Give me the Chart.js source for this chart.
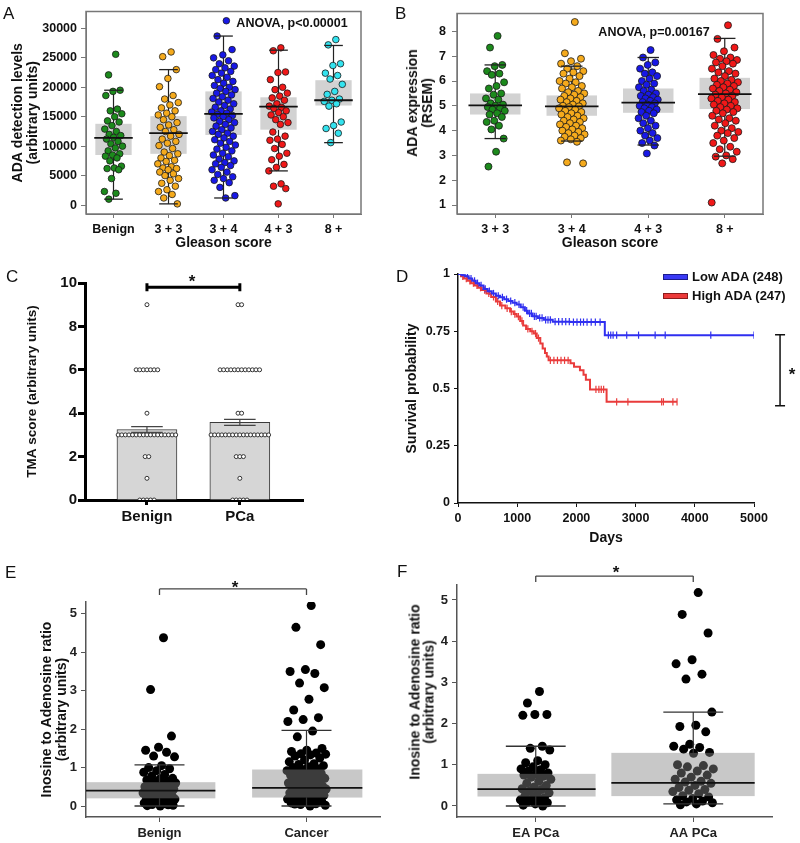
<!DOCTYPE html>
<html>
<head>
<meta charset="utf-8">
<script src="https://cdn.jsdelivr.net/npm/chart.js@4.4.1/dist/chart.umd.min.js"></script>
<style>
  body { margin: 0; width: 800px; height: 843px; position: relative; background: #fff; overflow: hidden;
         font-family: 'Liberation Sans', Arial, sans-serif; }
  canvas { position: absolute; }
  .tx { position: absolute; white-space: nowrap; line-height: 1; transform: translate(-50%, -50%); font-weight: bold; color: #111; }
  .rot { position: absolute; white-space: nowrap; text-align: center; transform: translate(-50%, -50%) rotate(-90deg);
         font-weight: bold; font-size: 14px; color: #111; }
  .letter { position: absolute; font-size: 17px; line-height: 1; color: #111; }
  .leg { position: absolute; font-size: 13px; font-weight: bold; line-height: 1; color: #111; transform: translateY(-50%); white-space: nowrap; }
  .sw { position: absolute; width: 23px; height: 4px; }
</style>
</head>
<body>
<canvas id="pa"></canvas>
<canvas id="pb"></canvas>
<canvas id="pc"></canvas>
<canvas id="pd"></canvas>
<canvas id="pe"></canvas>
<canvas id="pf"></canvas>

<div class="letter" style="left:3px;top:5px">A</div>
<div class="letter" style="left:395px;top:5px">B</div>
<div class="letter" style="left:6px;top:268px">C</div>
<div class="letter" style="left:396px;top:268px">D</div>
<div class="letter" style="left:5px;top:564px">E</div>
<div class="letter" style="left:397px;top:563px">F</div>

<div class="rot" style="left:419.5px;top:103px;line-height:15px">ADA expression<br>(RSEM)</div>
<div class="rot" style="left:421.5px;top:692px;line-height:13.5px">Inosine to Adenosine ratio<br>(arbitrary units)</div>

<div class="tx" style="left:292px;top:23px;font-size:12.5px">ANOVA, p&lt;0.00001</div>
<div class="tx" style="left:654px;top:32px;font-size:12.5px">ANOVA, p=0.00167</div>
<div class="tx" style="left:192px;top:281px;font-size:17px">*</div>
<div class="tx" style="left:792px;top:374px;font-size:17px">*</div>
<div class="tx" style="left:235px;top:587px;font-size:17px">*</div>
<div class="tx" style="left:616px;top:572px;font-size:17px">*</div>

<div class="sw" style="left:663px;top:274px;background:#3a3af5;border:1px solid #1c1c8c"></div>
<div class="leg" style="left:692px;top:276px">Low ADA (248)</div>
<div class="sw" style="left:663px;top:293px;background:#ec3a3a;border:1px solid #8c1c1c"></div>
<div class="leg" style="left:692px;top:295px">High ADA (247)</div>

<script>
// ── ADA figure: A/B jittered box plots, C TMA bars, D Kaplan-Meier, E/F ratio box plots ──

// A — ADA detection levels by Gleason score
const aCats = ['Benign', '3 + 3', '3 + 4', '4 + 3', '8 +'];
const aBenign = [25600, 22100, 19500, 19300, 18600, 16300, 16000, 15500, 15000, 14300, 14100, 13500, 12900, 12500, 12000, 11800, 11500, 11200, 10800, 10400, 10000, 9700, 9200, 8700, 8500, 8300, 8000, 7500, 6600, 6300, 6200, 6000, 4500, 2300, 2000, 1000];
const aG33 = [26000, 25200, 23000, 21500, 20100, 18600, 18000, 17400, 17000, 16500, 16000, 15600, 15300, 15000, 14500, 14000, 13600, 13200, 12800, 12500, 12000, 11700, 11200, 10800, 10500, 10100, 9600, 9000, 8700, 8400, 8000, 7600, 7400, 7000, 6500, 6300, 6200, 6000, 5600, 5300, 5000, 4500, 4200, 3700, 3200, 2600, 2300, 1800, 1200, 200];
const aG34 = [31300, 28700, 26400, 25500, 25000, 24500, 24000, 23600, 23300, 23000, 22700, 22400, 22000, 21700, 21300, 21000, 20700, 20300, 20000, 19800, 19600, 19300, 19000, 18700, 18400, 18100, 17800, 17500, 17200, 16900, 16600, 16300, 16000, 15800, 15600, 15400, 15200, 15000, 14800, 14500, 14200, 14000, 13700, 13400, 13100, 12800, 12500, 12200, 12000, 11700, 11400, 11100, 10800, 10500, 10200, 9800, 9500, 9200, 8800, 8500, 8200, 7800, 7500, 7200, 7000, 6700, 6400, 6000, 5600, 5200, 4800, 4500, 4200, 3800, 3000, 1600, 1200];
const aG43 = [26700, 26200, 22600, 22500, 21300, 20000, 19600, 19000, 18500, 18200, 17800, 17200, 16800, 16600, 16400, 16000, 15700, 15300, 15000, 14500, 14000, 13700, 12400, 11700, 11200, 11000, 10300, 9600, 8800, 8300, 7700, 6900, 6400, 5800, 3600, 3200, 2800, 200];
const aG8 = [28100, 27200, 24000, 23700, 22400, 22000, 21400, 20500, 19300, 18800, 18000, 17800, 17600, 17200, 16800, 14100, 13500, 13000, 12200, 10600];
const aLow = [1000, 200, 1200, 5800, 10600];
const aQ1 = [8500, 8700, 11900, 12800, 16900];
const aMed = [11400, 12200, 15500, 16700, 17800];
const aQ3 = [13800, 15100, 19300, 18300, 21200];
const aHigh = [19500, 23000, 28700, 26300, 27100];
const aTicks = [0, 5000, 10000, 15000, 20000, 25000, 30000];

// B — ADA expression (RSEM) by Gleason score
const bCats = ['3 + 3', '3 + 4', '4 + 3', '8 +'];
const bG33 = [7.82, 7.35, 6.65, 6.6, 6.4, 6.3, 6.25, 5.95, 5.8, 5.7, 5.5, 5.45, 5.3, 5.25, 5.1, 5.05, 5.0, 4.95, 4.9, 4.85, 4.8, 4.7, 4.65, 4.55, 4.4, 4.35, 4.2, 4.05, 3.68, 3.15, 2.55];
const bG34 = [8.38, 7.12, 6.9, 6.8, 6.7, 6.6, 6.5, 6.4, 6.35, 6.3, 6.2, 6.1, 6.0, 5.95, 5.9, 5.8, 5.75, 5.7, 5.6, 5.55, 5.5, 5.45, 5.4, 5.35, 5.3, 5.25, 5.2, 5.15, 5.1, 5.05, 5.0, 4.98, 4.95, 4.9, 4.85, 4.8, 4.75, 4.7, 4.65, 4.6, 4.55, 4.5, 4.45, 4.4, 4.35, 4.3, 4.25, 4.2, 4.15, 4.1, 4.05, 4.0, 3.95, 3.9, 3.85, 3.8, 3.75, 3.7, 3.65, 3.6, 3.55, 2.72, 2.68];
const bG43 = [7.25, 6.95, 6.75, 6.65, 6.5, 6.35, 6.3, 6.2, 6.1, 6.0, 5.9, 5.85, 5.75, 5.65, 5.6, 5.5, 5.45, 5.4, 5.35, 5.3, 5.25, 5.2, 5.15, 5.1, 5.05, 5.0, 4.95, 4.9, 4.85, 4.8, 4.75, 4.7, 4.6, 4.5, 4.4, 4.3, 4.2, 4.1, 4.0, 3.9, 3.8, 3.7, 3.6, 3.5, 3.4, 3.08];
const bG8 = [8.25, 7.7, 7.35, 7.2, 7.05, 6.95, 6.9, 6.85, 6.8, 6.75, 6.7, 6.6, 6.5, 6.4, 6.35, 6.3, 6.2, 6.1, 6.05, 6.0, 5.95, 5.9, 5.85, 5.8, 5.75, 5.7, 5.65, 5.6, 5.55, 5.5, 5.45, 5.4, 5.35, 5.3, 5.25, 5.2, 5.15, 5.1, 5.05, 5.0, 4.95, 4.9, 4.85, 4.8, 4.75, 4.7, 4.6, 4.5, 4.45, 4.4, 4.3, 4.2, 4.1, 4.0, 3.95, 3.9, 3.8, 3.7, 3.6, 3.5, 3.35, 3.25, 3.15, 3.0, 2.95, 2.85, 2.68, 1.1];
const bLow = [3.68, 3.58, 3.42, 2.97];
const bQ1 = [4.65, 4.6, 4.72, 4.87];
const bMed = [5.02, 4.98, 5.13, 5.47];
const bQ3 = [5.5, 5.42, 5.7, 6.13];
const bHigh = [6.65, 6.6, 6.95, 7.72];
const bTicks = [1, 2, 3, 4, 5, 6, 7, 8];

// C — TMA score, bar = mean ± SEM, dots = number of cores per score
const cCats = ['Benign', 'PCa'];
const cMean = [3.25, 3.58];
const cSem = [0.13, 0.14];
const cScores = [0, 1, 2, 3, 4, 6, 9];
const cBenignN = [5, 1, 2, 17, 1, 7, 1];
const cPcaN = [5, 1, 3, 17, 2, 12, 2];
const cTicks = [0, 2, 4, 6, 8, 10];

// D — Kaplan-Meier survival
const lowT = [0, 60, 120, 180, 240, 300, 360, 430, 500, 570, 640, 710, 780, 850, 920, 990, 1060, 1130, 1180, 1260, 1350, 1450, 1600, 1900, 2480, 5000];
const lowS = [1, 0.995, 0.99, 0.98, 0.97, 0.96, 0.95, 0.935, 0.925, 0.915, 0.905, 0.898, 0.89, 0.882, 0.875, 0.867, 0.855, 0.84, 0.828, 0.815, 0.808, 0.8, 0.792, 0.79, 0.733, 0.733];
const lowCens = [100, 160, 220, 280, 330, 390, 460, 530, 600, 680, 750, 820, 890, 960, 1030, 1100, 1160, 1210, 1240, 1290, 1320, 1380, 1420, 1480, 1520, 1560, 1640, 1700, 1760, 1820, 1880, 1950, 2010, 2070, 2120, 2180, 2250, 2320, 2400, 2540, 2580, 2620, 2680, 2850, 3050, 3330, 3500, 4270, 5000];
const highT = [0, 50, 100, 160, 220, 280, 340, 400, 480, 560, 640, 710, 800, 880, 940, 990, 1050, 1100, 1150, 1220, 1280, 1330, 1390, 1430, 1470, 1500, 1530, 1900, 1960, 2060, 2120, 2160, 2230, 2510, 3700];
const highS = [1, 0.99, 0.98, 0.97, 0.96, 0.95, 0.94, 0.93, 0.915, 0.9, 0.88, 0.862, 0.85, 0.836, 0.825, 0.814, 0.795, 0.775, 0.76, 0.75, 0.74, 0.72, 0.697, 0.675, 0.655, 0.64, 0.623, 0.61, 0.595, 0.58, 0.56, 0.538, 0.496, 0.442, 0.442];
const highCens = [80, 140, 200, 260, 320, 380, 450, 520, 600, 670, 740, 830, 900, 960, 1020, 1080, 1180, 1250, 1310, 1360, 1560, 1620, 1680, 1740, 1800, 1860, 2330, 2380, 2420, 2460, 2680, 2870, 3440, 3470, 3630, 3700];
const dXTicks = [0, 1000, 2000, 3000, 4000, 5000];
const dYTicks = [0, 0.25, 0.5, 0.75, 1];

// E — inosine/adenosine ratio, benign vs cancer
const eCats = ['Benign', 'Cancer'];
const eBenign = [4.38, 3.03, 1.82, 1.53, 1.45, 1.4, 1.3, 1.28, 1.05, 1.0, 0.97, 0.92, 0.88, 0.82, 0.78, 0.72, 0.7, 0.68, 0.65, 0.63, 0.6, 0.58, 0.57, 0.55, 0.52, 0.5, 0.48, 0.46, 0.44, 0.42, 0.4, 0.38, 0.36, 0.34, 0.32, 0.3, 0.28, 0.26, 0.24, 0.22, 0.2, 0.18, 0.16, 0.14, 0.12, 0.1, 0.08, 0.06, 0.04, 0.02, 0.0, 0.01, 0.03];
const eCancer = [5.22, 4.65, 4.2, 3.55, 3.5, 3.45, 3.2, 3.08, 2.78, 2.5, 2.3, 2.25, 2.2, 1.95, 1.8, 1.5, 1.45, 1.42, 1.38, 1.36, 1.35, 1.33, 1.3, 1.25, 1.2, 1.15, 1.1, 1.08, 1.05, 1.02, 1.0, 0.97, 0.95, 0.92, 0.9, 0.88, 0.85, 0.82, 0.8, 0.78, 0.75, 0.72, 0.7, 0.68, 0.65, 0.62, 0.6, 0.58, 0.55, 0.52, 0.5, 0.49, 0.48, 0.46, 0.44, 0.42, 0.4, 0.38, 0.36, 0.34, 0.32, 0.3, 0.28, 0.26, 0.24, 0.22, 0.2, 0.18, 0.16, 0.14, 0.12, 0.1, 0.08, 0.06, 0.04, 0.02, 0.0, 0.05, 0.15, 0.25];
const eLow = [0, 0];
const eQ1 = [0.2, 0.22];
const eMed = [0.4, 0.47];
const eQ3 = [0.62, 0.95];
const eHigh = [1.07, 1.97];

// F — inosine/adenosine ratio, EA vs AA PCa
const fCats = ['EA PCa', 'AA PCa'];
const fEA = [2.78, 2.5, 2.22, 2.22, 2.2, 1.45, 1.4, 1.36, 1.1, 1.05, 1.0, 0.95, 0.9, 0.88, 0.85, 0.8, 0.78, 0.75, 0.72, 0.7, 0.65, 0.6, 0.55, 0.5, 0.46, 0.42, 0.4, 0.36, 0.32, 0.28, 0.25, 0.2, 0.18, 0.15, 0.12, 0.1, 0.08, 0.05, 0.02, 0.0];
const fAA = [5.18, 4.65, 4.2, 3.55, 3.45, 3.2, 3.08, 2.28, 1.96, 1.93, 1.8, 1.5, 1.45, 1.42, 1.38, 1.3, 1.28, 1.0, 0.98, 0.95, 0.9, 0.85, 0.8, 0.75, 0.7, 0.65, 0.6, 0.58, 0.55, 0.5, 0.45, 0.4, 0.38, 0.35, 0.3, 0.25, 0.22, 0.18, 0.15, 0.12, 0.1, 0.08, 0.05, 0.03];
const fLow = [0, 0.05];
const fQ1 = [0.23, 0.24];
const fMed = [0.41, 0.56];
const fQ3 = [0.78, 1.29];
const fHigh = [1.45, 2.28];
const eTicks = [0, 1, 2, 3, 4, 5];

Chart.defaults.font.family = "'Liberation Sans', Arial, sans-serif";
Chart.defaults.font.weight = 'bold';
Chart.defaults.color = '#111';
Chart.defaults.animation = false;
Chart.defaults.plugins.legend.display = false;
Chart.defaults.plugins.tooltip.enabled = false;

// place a canvas and work out the padding / axis sizes that put the plot area where it is in the figure
function frame(id, box, area) {
  const c = document.getElementById(id);
  c.width = box.w; c.height = box.h;
  c.style.left = box.x + 'px'; c.style.top = box.y + 'px';
  return {
    el: c,
    padding: { left: 0, top: area.top - box.y, right: box.x + box.w - area.right, bottom: 0 },
    yw: area.left - box.x,
    xh: box.y + box.h - area.bottom,
  };
}

function axis(f, side, o) {
  const line = o.line || '#555';
  return {
    type: 'linear', min: o.min, max: o.max, offset: false,
    afterBuildTicks: s => { s.ticks = o.ticks.map(v => ({ value: v })); },
    afterFit: side === 'y' ? s => { s.width = f.yw; } : s => { s.height = f.xh; },
    ticks: { callback: o.label || (v => String(v)), font: { size: o.size || 12.5 }, padding: o.pad ?? 4,
             color: o.color || '#111', autoSkip: false, maxRotation: 0 },
    grid: { display: true, offset: false, drawOnChartArea: false, drawTicks: true, tickLength: o.tick ?? 5,
            tickWidth: o.tickWidth || 1, color: line, tickColor: line },
    border: { display: true, color: line, width: o.lineWidth || 1 },
    title: o.title
      ? { display: true, text: o.title, color: '#111',
          font: { size: o.titleSize || 14, lineHeight: o.titleLH || 1.1 },
          padding: { top: o.titleTop || 0, bottom: o.titleBottom || 0 } }
      : { display: false },
  };
}

// deterministic spread of points around a category centre
function swarm(vals, idx, spread) {
  return vals.map((v, i) => ({ x: idx + spread * ((((i + 1) * 0.618034) % 1) * 2 - 1), y: v }));
}

function boxPlugin(cfg) {
  const line = (ctx, x1, y1, x2, y2) => { ctx.beginPath(); ctx.moveTo(x1, y1); ctx.lineTo(x2, y2); ctx.stroke(); };
  function boxes(chart) {
    const { ctx, scales: { x, y } } = chart;
    ctx.save();
    cfg.med.forEach((_, i) => {
      const xl = x.getPixelForValue(i + cfg.boxL[i]), xr = x.getPixelForValue(i + cfg.boxR[i]);
      const yt = y.getPixelForValue(cfg.q3[i]), yb = y.getPixelForValue(cfg.q1[i]);
      const xc = x.getPixelForValue(i);
      ctx.strokeStyle = cfg.whisker; ctx.lineWidth = 1.2;
      line(ctx, xc, yt, xc, y.getPixelForValue(cfg.hi[i]));
      line(ctx, xc, yb, xc, y.getPixelForValue(cfg.lo[i]));
      ctx.fillStyle = cfg.fill;
      ctx.fillRect(xl, yt, xr - xl, yb - yt);
    });
    ctx.restore();
  }
  function marks(chart) {
    const { ctx, scales: { x, y } } = chart;
    ctx.save();
    cfg.med.forEach((m, i) => {
      const cl = x.getPixelForValue(i - cfg.cap), cr = x.getPixelForValue(i + cfg.cap);
      ctx.strokeStyle = cfg.whisker; ctx.lineWidth = 1.3;
      [cfg.lo[i], cfg.hi[i]].forEach(v => { const py = y.getPixelForValue(v); line(ctx, cl, py, cr, py); });
      ctx.strokeStyle = '#111'; ctx.lineWidth = 1.8;
      const py = y.getPixelForValue(m);
      line(ctx, x.getPixelForValue(i + cfg.medL[i]), py, x.getPixelForValue(i + cfg.medR[i]), py);
    });
    ctx.restore();
  }
  return {
    id: 'boxes',
    beforeDatasetsDraw(chart) { if (!cfg.over) boxes(chart); },
    afterDatasetsDraw(chart) { if (cfg.over) boxes(chart); marks(chart); },
  };
}

function outlinePlugin(color) {
  return {
    id: 'outline',
    afterDraw(chart) {
      const { ctx, chartArea: a } = chart;
      ctx.save(); ctx.strokeStyle = color; ctx.lineWidth = 1.5;
      ctx.strokeRect(a.left, a.top, a.right - a.left, a.bottom - a.top);
      ctx.restore();
    },
  };
}

// significance brackets in data units; tick sizes in px
function bracketPlugin(list) {
  return {
    id: 'brackets',
    afterDraw(chart) {
      const { ctx, scales: { x, y } } = chart;
      ctx.save();
      list.forEach(b => {
        ctx.strokeStyle = b.color; ctx.lineWidth = b.w;
        ctx.beginPath();
        if (b.dir === 'h') {
          const x1 = x.getPixelForValue(b.x1), x2 = x.getPixelForValue(b.x2), py = y.getPixelForValue(b.y);
          ctx.moveTo(x1, py); ctx.lineTo(x2, py);
          [x1, x2].forEach(px => { ctx.moveTo(px, py - b.up); ctx.lineTo(px, py + b.down); });
        } else {
          const px = x.getPixelForValue(b.x), y1 = y.getPixelForValue(b.y1), y2 = y.getPixelForValue(b.y2);
          ctx.moveTo(px, y1); ctx.lineTo(px, y2);
          [y1, y2].forEach(py => { ctx.moveTo(px - b.cap, py); ctx.lineTo(px + b.cap, py); });
        }
        ctx.stroke();
      });
      ctx.restore();
    },
  };
}

function pointSet(data, color, r, border) {
  return { data, backgroundColor: color, borderColor: border || '#1a1a1a', borderWidth: border === null ? 0 : 0.8,
           pointRadius: r, pointHoverRadius: r, showLine: false };
}

// ---------- A ----------
{
  const f = frame('pa', { x: 0, y: 0, w: 372, h: 255 }, { left: 86, top: 10, right: 361, bottom: 214 });
  const groups = [aBenign, aG33, aG34, aG43, aG8];
  const colors = ['#1c8a1c', '#f5aa1c', '#1818e6', '#f01818', '#33e3ef'];
  const spreads = [0.17, 0.2, 0.22, 0.18, 0.18];
  new Chart(f.el, {
    type: 'scatter',
    data: { datasets: groups.map((g, i) => pointSet(swarm(g, i, spreads[i]), colors[i], 3.3)) },
    options: {
      responsive: false, layout: { padding: f.padding },
      scales: {
        x: axis(f, 'x', { min: -0.5, max: 4.5, ticks: [0, 1, 2, 3, 4], label: v => aCats[v], tick: 4, pad: 4,
                          title: 'Gleason score', titleBottom: 4, line: '#777' }),
        y: axis(f, 'y', { min: -1520, max: 32870, ticks: aTicks, tick: 5, pad: 4, line: '#777',
                          title: ['ADA detection levels', '(arbitrary units)'], titleTop: 10 }),
      },
    },
    plugins: [
      boxPlugin({ lo: aLow, q1: aQ1, med: aMed, q3: aQ3, hi: aHigh, boxL: [-0.33, -0.33, -0.33, -0.33, -0.33],
                  boxR: [0.33, 0.33, 0.33, 0.33, 0.33], medL: [-0.35, -0.35, -0.35, -0.35, -0.35],
                  medR: [0.35, 0.35, 0.35, 0.35, 0.35], cap: 0.17, fill: '#d2d2d2', whisker: '#222', over: false }),
      outlinePlugin('#777'),
    ],
  });
}

// ---------- B ----------
{
  const f = frame('pb', { x: 400, y: 0, w: 400, h: 255 }, { left: 457, top: 13, right: 763, bottom: 214 });
  const groups = [bG33, bG34, bG43, bG8];
  const colors = ['#1c8a1c', '#f5aa1c', '#1818e6', '#f01818'];
  const spreads = [0.13, 0.17, 0.13, 0.18];
  new Chart(f.el, {
    type: 'scatter',
    data: { datasets: groups.map((g, i) => pointSet(swarm(g, i, spreads[i]), colors[i], 3.5)) },
    options: {
      responsive: false, layout: { padding: f.padding },
      scales: {
        x: axis(f, 'x', { min: -0.5, max: 3.5, ticks: [0, 1, 2, 3], label: v => bCats[v], tick: 4, pad: 4,
                          title: 'Gleason score', titleBottom: 4, line: '#777' }),
        y: axis(f, 'y', { min: 0.638, max: 8.724, ticks: bTicks, tick: 5, pad: 6, line: '#777' }),
      },
    },
    plugins: [
      boxPlugin({ lo: bLow, q1: bQ1, med: bMed, q3: bQ3, hi: bHigh, boxL: [-0.33, -0.33, -0.33, -0.33],
                  boxR: [0.33, 0.33, 0.33, 0.33], medL: [-0.35, -0.35, -0.35, -0.35], medR: [0.35, 0.35, 0.35, 0.35],
                  cap: 0.14, fill: '#d2d2d2', whisker: '#222', over: false }),
      outlinePlugin('#777'),
    ],
  });
}

// ---------- C ----------
{
  const f = frame('pc', { x: 0, y: 265, w: 330, h: 270 }, { left: 85, top: 283, right: 303, bottom: 500 });
  const step = 0.0387;
  const dots = (counts, pos) => cScores.flatMap((s, k) =>
    Array.from({ length: counts[k] }, (_, j) => ({ x: pos + (j - (counts[k] - 1) / 2) * step, y: s })));
  const errPlugin = {
    id: 'sem',
    afterDatasetsDraw(chart) {
      const { ctx, scales: { x, y } } = chart;
      ctx.save(); ctx.strokeStyle = '#444'; ctx.lineWidth = 1.2;
      cMean.forEach((m, i) => {
        const xc = x.getPixelForValue(i + 1), xl = x.getPixelForValue(i + 1 - 0.17), xr = x.getPixelForValue(i + 1 + 0.17);
        const yt = y.getPixelForValue(m + cSem[i]), yb = y.getPixelForValue(m - cSem[i]);
        ctx.beginPath();
        ctx.moveTo(xc, yt); ctx.lineTo(xc, yb);
        ctx.moveTo(xl, yt); ctx.lineTo(xr, yt);
        ctx.moveTo(xl, yb); ctx.lineTo(xr, yb);
        ctx.stroke();
      });
      ctx.restore();
    },
  };
  new Chart(f.el, {
    type: 'bar',
    data: {
      datasets: [
        { type: 'bar', data: cMean.map((m, i) => ({ x: i + 1, y: m })), barThickness: 60,
          backgroundColor: '#d6d6d6', borderColor: '#3a3a3a', borderWidth: 1, order: 3 },
        { type: 'scatter', data: dots(cBenignN, 1).concat(dots(cPcaN, 2)), backgroundColor: '#fff',
          borderColor: '#333', borderWidth: 1, pointRadius: 2, showLine: false, order: 1 },
      ],
    },
    options: {
      responsive: false, layout: { padding: f.padding },
      scales: {
        x: axis(f, 'x', { min: 0.333, max: 2.68, ticks: [1, 2], label: v => cCats[v - 1], size: 15, tick: 5, pad: 3,
                          tickWidth: 3, lineWidth: 3, line: '#000' }),
        y: axis(f, 'y', { min: 0, max: 10, ticks: cTicks, size: 15, tick: 7, pad: 1, tickWidth: 3, lineWidth: 3,
                          line: '#000', title: 'TMA score (arbitrary units)', titleSize: 13.5, titleTop: 25 }),
      },
    },
    plugins: [errPlugin, bracketPlugin([{ dir: 'h', x1: 1, x2: 2, y: 9.8, up: 4, down: 4, w: 3, color: '#000' }])],
  });
}

// ---------- D ----------
{
  const f = frame('pd', { x: 400, y: 262, w: 400, h: 290 }, { left: 458, top: 274, right: 754, bottom: 503 });
  const at = (T, S, t) => { let v = S[0]; T.forEach((tt, i) => { if (tt <= t) v = S[i]; }); return v; };
  const curve = (T, S) => T.map((t, i) => ({ x: t, y: S[i] }));
  const cens = (C, T, S) => C.map(t => ({ x: t, y: at(T, S, t) }));
  const blue = '#2f2ff0', red = '#e93b3b';
  const tickSet = (data, color) => ({ type: 'scatter', data, pointStyle: 'line', rotation: 90, pointRadius: 3.6,
                                       borderColor: color, borderWidth: 1.2, showLine: false });
  new Chart(f.el, {
    type: 'line',
    data: {
      datasets: [
        { data: curve(lowT, lowS), stepped: true, borderColor: blue, borderWidth: 2, pointRadius: 0, fill: false },
        { data: curve(highT, highS), stepped: true, borderColor: red, borderWidth: 2, pointRadius: 0, fill: false },
        tickSet(cens(lowCens, lowT, lowS), blue),
        tickSet(cens(highCens, highT, highS), red),
      ],
    },
    options: {
      responsive: false, layout: { padding: f.padding },
      scales: {
        x: axis(f, 'x', { min: 0, max: 5000, ticks: dXTicks, tick: 4, pad: 4, line: '#111', lineWidth: 1.5,
                          title: 'Days', titleBottom: 6 }),
        y: axis(f, 'y', { min: 0, max: 1, ticks: dYTicks, tick: 4, pad: 4, line: '#111', lineWidth: 1.5,
                          title: 'Survival probability', titleTop: 4 }),
      },
    },
    plugins: [bracketPlugin([{ dir: 'v', x: 5440, y1: 0.735, y2: 0.425, cap: 5, w: 1.5, color: '#111' }])],
  });
}

// ---------- E / F ----------
function ratioPanel(id, box, area, cats, groups, spreads, st, yr, title, bracketY) {
  const f = frame(id, box, area);
  new Chart(f.el, {
    type: 'scatter',
    data: { datasets: groups.map((g, i) => pointSet(swarm(g, i, spreads[i]), '#000', 4.5, null)) },
    options: {
      responsive: false, layout: { padding: f.padding },
      scales: {
        x: axis(f, 'x', { min: -0.5, max: 1.5, ticks: [0, 1], label: v => cats[v], size: 13, tick: 5, pad: 4,
                          line: '#555', lineWidth: 1.5, color: '#222' }),
        y: axis(f, 'y', Object.assign({ min: yr[0], max: yr[1], ticks: eTicks, size: 13, tick: 5, pad: 4, line: '#555',
                          lineWidth: 1.5, color: '#222' }, title)),
      },
    },
    plugins: [
      boxPlugin(Object.assign({ whisker: '#333', fill: 'rgba(133,133,133,0.45)', over: true }, st)),
      bracketPlugin([{ dir: 'h', x1: 0, x2: 1, y: bracketY, up: 0, down: 6, w: 1.3, color: '#444' }]),
    ],
  });
}

ratioPanel('pe', { x: 0, y: 575, w: 400, h: 268 }, { left: 86, top: 602, right: 380, bottom: 817 }, eCats,
  [eBenign, eCancer], [0.115, 0.136],
  { lo: eLow, q1: eQ1, med: eMed, q3: eQ3, hi: eHigh, boxL: [-0.5, -0.37], boxR: [0.38, 0.38],
    medL: [-0.5, -0.37], medR: [0.38, 0.38], cap: 0.17 },
  [-0.286, 5.31], { title: ['Inosine to Adenosine ratio', '(arbitrary units)'], titleTop: 39, titleLH: 1.1 }, 5.65);

ratioPanel('pf', { x: 400, y: 565, w: 400, h: 278 }, { left: 457, top: 585, right: 772, bottom: 817 }, fCats,
  [fEA, fAA], [0.1, 0.133],
  { lo: fLow, q1: fQ1, med: fMed, q3: fQ3, hi: fHigh, boxL: [-0.37, -0.52], boxR: [0.38, 0.39],
    medL: [-0.37, -0.52], medR: [0.38, 0.39], cap: 0.19 },
  [-0.267, 5.364], {}, 5.58);
</script>
</body>
</html>
